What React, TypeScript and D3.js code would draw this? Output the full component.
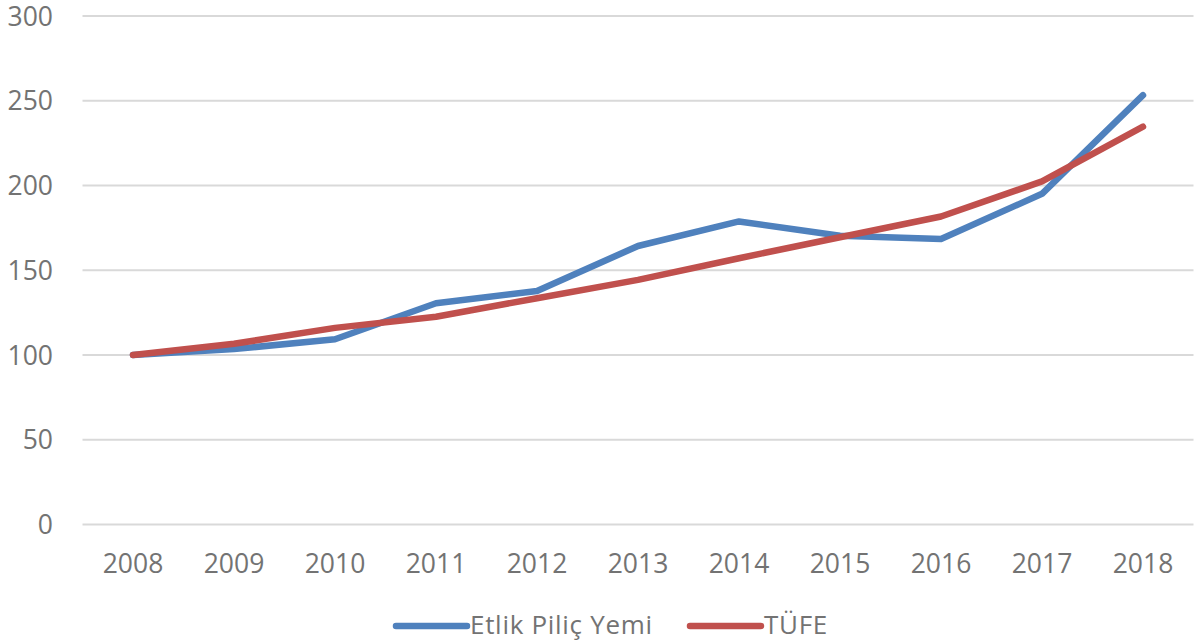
import React from "react";
import * as d3 from "d3";

const years = ["2008", "2009", "2010", "2011", "2012", "2013", "2014", "2015", "2016", "2017", "2018"];
const etlikPilicYemi = [100, 103.5, 109.3, 130.5, 137.8, 164.3, 178.8, 170.3, 168.4, 195.1, 253.3];
const tufe = [100, 106.6, 116.0, 122.6, 133.5, 144.3, 157.1, 169.5, 181.7, 202.4, 234.7];
const yTicks = [0, 50, 100, 150, 200, 250, 300];

const seriesList = [
  { name: "Etlik Piliç Yemi", values: etlikPilicYemi, color: "#4f81bd" },
  { name: "TÜFE", values: tufe, color: "#c0504d" },
];

const W = 1195;
const H = 643;
const FONT = "'Open Sans', sans-serif";
const TEXT = "#737373";
const FS = 26.5;

export default function App() {
  const x = d3.scaleBand<string>().domain(years).range([82.5, 1193.5]).padding(0);
  const y = d3.scaleLinear().domain([0, 300]).range([524.5, 16]);
  const cx = (yr: string) => (x(yr) as number) + x.bandwidth() / 2;
  const line = d3
    .line<number>()
    .x((_, i) => cx(years[i]))
    .y((v) => y(v));

  const legend = [
    { x0: 396, x1: 467, tx: 470 },
    { x0: 690, x1: 761, tx: 764 },
  ];

  return (
    <svg
      width={W}
      height={H}
      style={{ position: "absolute", left: 0, top: 0, background: "#fff" }}
      fontFamily={FONT}
    >
      {yTicks.map((t) => (
        <g key={t}>
          <line x1={82.5} x2={1193.5} y1={y(t)} y2={y(t)} stroke="#d9d9d9" strokeWidth={2} />
          <text x={53} y={y(t)} dy="0.36em" textAnchor="end" fontSize={FS} fill={TEXT}>
            {t}
          </text>
        </g>
      ))}
      {years.map((yr) => (
        <text key={yr} x={cx(yr)} y={563} dy="0.36em" textAnchor="middle" fontSize={FS} fill={TEXT}>
          {yr}
        </text>
      ))}
      {seriesList.map((s) => (
        <path
          key={s.name}
          d={line(s.values) as string}
          fill="none"
          stroke={s.color}
          strokeWidth={6.5}
          strokeLinejoin="round"
          strokeLinecap="round"
        />
      ))}
      {seriesList.map((s, i) => (
        <g key={s.name}>
          <line
            x1={legend[i].x0}
            x2={legend[i].x1}
            y1={626}
            y2={626}
            stroke={s.color}
            strokeWidth={6.5}
            strokeLinecap="round"
          />
          <text x={legend[i].tx} y={625} dy="0.36em" fontSize={26} fill={TEXT} letterSpacing={0.7}>
            {s.name}
          </text>
        </g>
      ))}
    </svg>
  );
}
